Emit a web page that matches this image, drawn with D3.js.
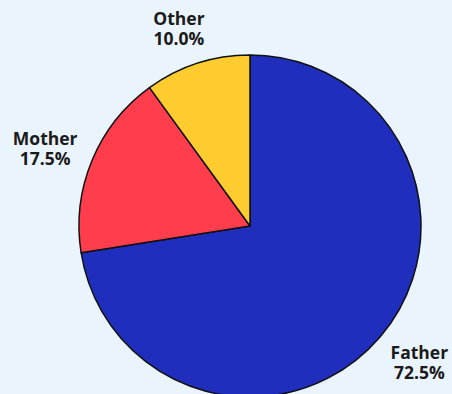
<!DOCTYPE html>
<html>
<head>
<meta charset="utf-8">
<script src="https://cdn.jsdelivr.net/npm/d3@7"></script>
<style>
  html, body { margin: 0; padding: 0; background: #eaf4fd; }
  svg { display: block; }
</style>
</head>
<body>
<svg id="chart" width="452" height="394"></svg>
<script>
// Share of responses by parent
const categories = ["Father", "Mother", "Other"];
const values = [72.5, 17.5, 10.0];
const colors = ["#1f2ebc", "#ff3d4c", "#ffcc2f"];

const width = 452, height = 394;
const cx = 250, cy = 226, radius = 171;
const labelGap = 10;
const labelTurn = -0.03; // slight counter-clockwise turn of label placement

const svg = d3.select("#chart");
const g = svg.append("g").attr("transform", `translate(${cx},${cy})`);

const data = categories.map((c, i) => ({ name: c, value: values[i], color: colors[i] }));

const pie = d3.pie().value(d => d.value).sort(null);
const arcs = pie(data);

const arc = d3.arc().innerRadius(0).outerRadius(radius);

g.selectAll("path.slice")
  .data(arcs)
  .join("path")
  .attr("class", "slice")
  .attr("d", arc)
  .attr("fill", d => d.data.color)
  .attr("stroke", "#111")
  .attr("stroke-width", 1.5)
  .attr("stroke-linejoin", "round");

// Two-line labels (name, then percentage) set in one text block each
const labels = g.selectAll("text.label")
  .data(arcs)
  .join("text")
  .attr("class", "label")
  .attr("text-anchor", "middle")
  .attr("font-family", "'Open Sans', 'Noto Sans', sans-serif")
  .attr("font-weight", 700)
  .attr("font-size", 17.5)
  .attr("fill", "#1a1a1a");

labels.append("tspan")
  .attr("x", 0)
  .attr("y", 0)
  .text(d => d.data.name);
labels.append("tspan")
  .attr("x", 0)
  .attr("y", 20)
  .text(d => d.data.value.toFixed(1) + "%");

// Push each label box outward along its slice's mid-angle so it clears the rim
labels.each(function(d) {
  const bb = this.getBBox();
  const a = (d.startAngle + d.endAngle) / 2 + labelTurn;
  const s = Math.sin(a), c = -Math.cos(a);
  const hw = bb.width / 2, hh = bb.height / 2;
  const ext = Math.abs(hw * s) + Math.abs(hh * c);
  const rr = radius + labelGap + ext;
  const tx = rr * s, ty = rr * c;
  const bcx = bb.x + hw, bcy = bb.y + hh;
  d3.select(this).attr("transform", `translate(${tx - bcx},${ty - bcy})`);
});
</script>
</body>
</html>
